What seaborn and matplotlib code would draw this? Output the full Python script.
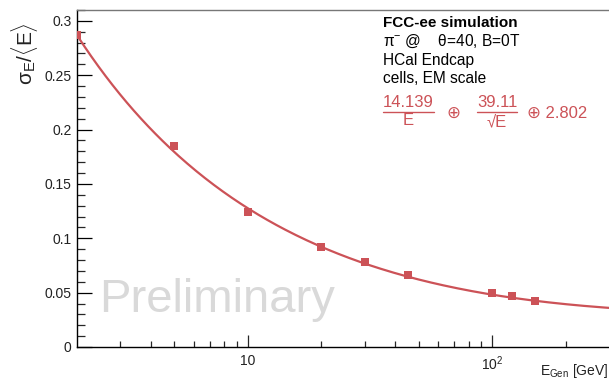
import numpy as np
import pandas as pd
import matplotlib
matplotlib.use("Agg")
import matplotlib.pyplot as plt
import seaborn as sns
from matplotlib.ticker import FixedLocator, NullFormatter

# ---- data ----
energies = [2, 5, 10, 20, 30, 45, 100, 120, 150]
resolution = [0.287, 0.185, 0.1238, 0.0923, 0.0779, 0.0663, 0.0494, 0.0466, 0.0426]
# fit parameters shown on the chart (in percent)
fit_a = 14.139   # noise term  a/E
fit_b = 39.11    # stochastic term  b/sqrt(E)
fit_c = 2.802    # constant term
y_ticks = [0, 0.05, 0.1, 0.15, 0.2, 0.25, 0.3]
y_tick_labels = ["0", "0.05", "0.1", "0.15", "0.2", "0.25", "0.3"]
x_ticks = [10, 100]
x_tick_labels = ["10", r"$10^{2}$"]
info_lines = ["HCal Endcap", "cells, EM scale"]

red = "#CC5257"

sns.set_theme(style="white")
plt.rcParams["font.family"] = ["Liberation Sans", "DejaVu Sans"]
plt.rcParams["mathtext.fontset"] = "custom"
plt.rcParams["mathtext.rm"] = "Liberation Sans"
plt.rcParams["mathtext.it"] = "Liberation Sans:italic"
plt.rcParams["mathtext.bf"] = "Liberation Sans:bold"

W, H = 609, 381
fig = plt.figure(figsize=(W / 100, H / 100), dpi=100)
L, R, T, B = 77, 609, 10, 347
ax = fig.add_axes([L / W, 1 - B / H, (R - L) / W, (B - T) / H])

df_pts = pd.DataFrame({"E": energies, "res": resolution})
E_grid = np.logspace(np.log10(2), np.log10(300), 300)
fit_vals = np.sqrt((fit_a / E_grid) ** 2 + (fit_b / np.sqrt(E_grid)) ** 2 + fit_c ** 2) / 100.0
df_fit = pd.DataFrame({"E": E_grid, "res": fit_vals})

sns.lineplot(data=df_fit, x="E", y="res", ax=ax, color=red, lw=1.6, zorder=2)
sns.scatterplot(data=df_pts, x="E", y="res", ax=ax, color=red, marker="s", s=38,
                edgecolor=red, linewidth=0, zorder=3)

ax.set_xscale("log")
ax.set_xlim(2, 300)
ax.set_ylim(0, 0.31)
ax.set_xlabel("")
ax.set_ylabel("")

ax.set_yticks(y_ticks)
ax.set_yticklabels(y_tick_labels)
ax.yaxis.set_minor_locator(FixedLocator([i * 0.01 for i in range(0, 32) if i % 5 != 0]))
ax.set_xticks(x_ticks)
ax.set_xticklabels(x_tick_labels)
ax.xaxis.set_minor_locator(FixedLocator([3, 4, 5, 6, 7, 8, 9, 20, 30, 40, 50, 60, 70, 80, 90, 200]))
ax.xaxis.set_minor_formatter(NullFormatter())

ax.tick_params(axis="y", which="major", direction="in", length=11, width=0.9,
               labelsize=10, pad=4, colors="black", left=True)
ax.tick_params(axis="y", which="minor", direction="in", length=6, width=0.9, left=True)
ax.tick_params(axis="x", which="major", direction="in", length=9, width=0.9,
               labelsize=10, pad=5, bottom=True)
ax.tick_params(axis="x", which="minor", direction="in", length=4.5, width=0.9, bottom=True)
for lab in ax.get_xticklabels() + ax.get_yticklabels():
    lab.set_color("#222222")

for s in ["left", "bottom"]:
    ax.spines[s].set_color("black")
    ax.spines[s].set_linewidth(1.0)
ax.spines["top"].set_color("#777777")
ax.spines["top"].set_linewidth(1.0)
ax.spines["right"].set_visible(False)

# helper: figure pixel coordinates (from top-left)
def px(x, y):
    return x / W, 1 - y / H

# Preliminary watermark
fig.text(*px(99, 312), "Preliminary", fontsize=34, color="#d9d9d9",
         ha="left", va="baseline", zorder=0)

# y label
fig.text(*px(25, 54), r"σ$_{\mathrm{E}}/\langle\mathrm{E}\rangle$", rotation=90,
         fontsize=15, ha="center", va="center", color="#222222")
# x label
fig.text(*px(608, 375), r"E$_{\mathrm{Gen}}$ [GeV]", fontsize=10, ha="right",
         va="baseline", color="#222222")

# info block
fs_info = 11.2
fig.text(*px(383, 27), "FCC-ee simulation", fontsize=11, fontweight="bold",
         ha="left", va="baseline", color="black")
fig.text(*px(383, 46), r"π$^{-}$ @    θ=40, B=0T", fontsize=fs_info,
         ha="left", va="baseline", color="black")
for i, line in enumerate(info_lines):
    fig.text(*px(383, 65 + i * 18), line, fontsize=fs_info, ha="left", va="baseline",
             color="black")

# fit formula
fs = 12
fig.text(*px(408, 107), f"{fit_a:.3f}", fontsize=fs, color=red, ha="center", va="baseline")
fig.add_artist(plt.Line2D([383 / W, 434 / W], [1 - 112 / H, 1 - 112 / H], color=red, lw=1.0))
fig.text(*px(408, 125), "E", fontsize=fs, color=red, ha="center", va="baseline")
fig.text(*px(453, 113), "⊕", fontsize=fs, color=red, ha="center", va="center")
fig.text(*px(497, 107), f"{fit_b:.2f}", fontsize=fs, color=red, ha="center", va="baseline")
fig.add_artist(plt.Line2D([477 / W, 517 / W], [1 - 112 / H, 1 - 112 / H], color=red, lw=1.0))
fig.text(*px(497, 126), "√E", fontsize=fs, color=red, ha="center", va="baseline")
fig.text(*px(527, 113), "⊕ " + f"{fit_c:.3f}", fontsize=fs, color=red,
         ha="left", va="center")

fig.savefig("out.png", dpi=100)
